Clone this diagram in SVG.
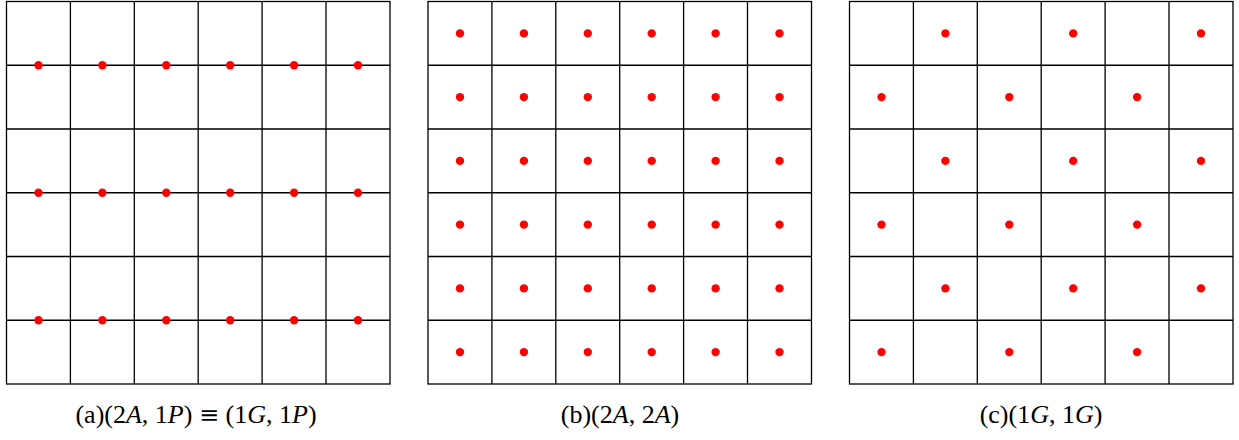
<svg xmlns="http://www.w3.org/2000/svg" width="1239" height="440" viewBox="0 0 1239 440">
<defs>
<style>
.g{fill:none;stroke:#000;stroke-width:1.3}
.d{fill:#f00}
.t{font-family:"Liberation Serif",serif;font-size:26px;fill:#000;text-anchor:middle}
</style>
</defs>
<g id="panel-a">
<g class="g">
<rect x="6.5" y="1.5" width="383.5" height="382.5"/>
<path d="M70.4 1.5V384M134.3 1.5V384M198.2 1.5V384M262.1 1.5V384M326 1.5V384M6.5 65.25H390M6.5 129H390M6.5 192.75H390M6.5 256.5H390M6.5 320.25H390"/>
</g>
<g class="d">
<circle cx="38.5" cy="65.25" r="4.2"/><circle cx="102.4" cy="65.25" r="4.2"/><circle cx="166.3" cy="65.25" r="4.2"/><circle cx="230.2" cy="65.25" r="4.2"/><circle cx="294.1" cy="65.25" r="4.2"/><circle cx="358" cy="65.25" r="4.2"/>
<circle cx="38.5" cy="192.75" r="4.2"/><circle cx="102.4" cy="192.75" r="4.2"/><circle cx="166.3" cy="192.75" r="4.2"/><circle cx="230.2" cy="192.75" r="4.2"/><circle cx="294.1" cy="192.75" r="4.2"/><circle cx="358" cy="192.75" r="4.2"/>
<circle cx="38.5" cy="320.25" r="4.2"/><circle cx="102.4" cy="320.25" r="4.2"/><circle cx="166.3" cy="320.25" r="4.2"/><circle cx="230.2" cy="320.25" r="4.2"/><circle cx="294.1" cy="320.25" r="4.2"/><circle cx="358" cy="320.25" r="4.2"/>
</g>
<text class="t" x="196" y="423">(a)(2<tspan font-style="italic">A</tspan>, 1<tspan font-style="italic">P</tspan>) <tspan font-family="DejaVu Serif" font-size="24">≡</tspan> (1<tspan font-style="italic">G</tspan>, 1<tspan font-style="italic">P</tspan>)</text>
</g>
<g id="panel-b">
<g class="g">
<rect x="428" y="1.5" width="383.5" height="382.5"/>
<path d="M491.9 1.5V384M555.8 1.5V384M619.7 1.5V384M683.6 1.5V384M747.5 1.5V384M428 65.25H811.5M428 129H811.5M428 192.75H811.5M428 256.5H811.5M428 320.25H811.5"/>
</g>
<g class="d">
<circle cx="460" cy="33.4" r="4.2"/><circle cx="523.9" cy="33.4" r="4.2"/><circle cx="587.8" cy="33.4" r="4.2"/><circle cx="651.7" cy="33.4" r="4.2"/><circle cx="715.6" cy="33.4" r="4.2"/><circle cx="779.5" cy="33.4" r="4.2"/>
<circle cx="460" cy="97.1" r="4.2"/><circle cx="523.9" cy="97.1" r="4.2"/><circle cx="587.8" cy="97.1" r="4.2"/><circle cx="651.7" cy="97.1" r="4.2"/><circle cx="715.6" cy="97.1" r="4.2"/><circle cx="779.5" cy="97.1" r="4.2"/>
<circle cx="460" cy="160.9" r="4.2"/><circle cx="523.9" cy="160.9" r="4.2"/><circle cx="587.8" cy="160.9" r="4.2"/><circle cx="651.7" cy="160.9" r="4.2"/><circle cx="715.6" cy="160.9" r="4.2"/><circle cx="779.5" cy="160.9" r="4.2"/>
<circle cx="460" cy="224.6" r="4.2"/><circle cx="523.9" cy="224.6" r="4.2"/><circle cx="587.8" cy="224.6" r="4.2"/><circle cx="651.7" cy="224.6" r="4.2"/><circle cx="715.6" cy="224.6" r="4.2"/><circle cx="779.5" cy="224.6" r="4.2"/>
<circle cx="460" cy="288.4" r="4.2"/><circle cx="523.9" cy="288.4" r="4.2"/><circle cx="587.8" cy="288.4" r="4.2"/><circle cx="651.7" cy="288.4" r="4.2"/><circle cx="715.6" cy="288.4" r="4.2"/><circle cx="779.5" cy="288.4" r="4.2"/>
<circle cx="460" cy="352.1" r="4.2"/><circle cx="523.9" cy="352.1" r="4.2"/><circle cx="587.8" cy="352.1" r="4.2"/><circle cx="651.7" cy="352.1" r="4.2"/><circle cx="715.6" cy="352.1" r="4.2"/><circle cx="779.5" cy="352.1" r="4.2"/>
</g>
<text class="t" x="620" y="423">(b)(2<tspan font-style="italic">A</tspan>, 2<tspan font-style="italic">A</tspan>)</text>
</g>
<g id="panel-c">
<g class="g">
<rect x="849.5" y="1.5" width="383.5" height="382.5"/>
<path d="M913.4 1.5V384M977.3 1.5V384M1041.2 1.5V384M1105.1 1.5V384M1169 1.5V384M849.5 65.25H1233M849.5 129H1233M849.5 192.75H1233M849.5 256.5H1233M849.5 320.25H1233"/>
</g>
<g class="d">
<circle cx="945.4" cy="33.4" r="4.2"/><circle cx="1073.2" cy="33.4" r="4.2"/><circle cx="1201" cy="33.4" r="4.2"/>
<circle cx="881.5" cy="97.1" r="4.2"/><circle cx="1009.3" cy="97.1" r="4.2"/><circle cx="1137.1" cy="97.1" r="4.2"/>
<circle cx="945.4" cy="160.9" r="4.2"/><circle cx="1073.2" cy="160.9" r="4.2"/><circle cx="1201" cy="160.9" r="4.2"/>
<circle cx="881.5" cy="224.6" r="4.2"/><circle cx="1009.3" cy="224.6" r="4.2"/><circle cx="1137.1" cy="224.6" r="4.2"/>
<circle cx="945.4" cy="288.4" r="4.2"/><circle cx="1073.2" cy="288.4" r="4.2"/><circle cx="1201" cy="288.4" r="4.2"/>
<circle cx="881.5" cy="352.1" r="4.2"/><circle cx="1009.3" cy="352.1" r="4.2"/><circle cx="1137.1" cy="352.1" r="4.2"/>
</g>
<text class="t" x="1041" y="423">(c)(1<tspan font-style="italic">G</tspan>, 1<tspan font-style="italic">G</tspan>)</text>
</g>
</svg>
